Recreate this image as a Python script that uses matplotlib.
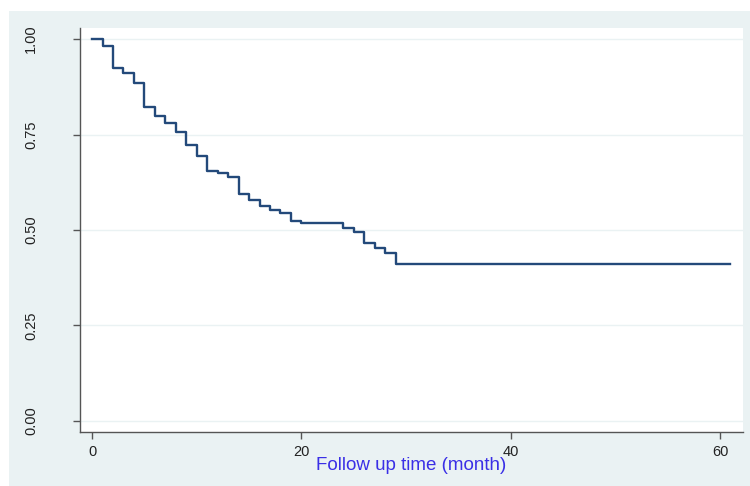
import matplotlib
matplotlib.use("Agg")
import matplotlib.pyplot as plt
from matplotlib.patches import Rectangle

# Kaplan-Meier estimate
months = [0, 1, 2, 3, 4, 5, 6, 7, 8, 9, 10, 11, 12, 13, 14, 15, 16, 17, 18, 19, 20,
          24, 25, 26, 27, 28, 29, 61]
survival = [1.0, 0.982, 0.923, 0.910, 0.884, 0.823, 0.798, 0.781, 0.757, 0.722, 0.694,
            0.655, 0.648, 0.638, 0.594, 0.579, 0.563, 0.552, 0.545, 0.524, 0.519,
            0.504, 0.496, 0.467, 0.452, 0.439, 0.410, 0.410]
x_ticks = [0, 20, 40, 60]
y_ticks = [0.0, 0.25, 0.5, 0.75, 1.0]
y_labels = ["0.00", "0.25", "0.50", "0.75", "1.00"]

plt.rcParams['font.family'] = ['Liberation Sans', 'DejaVu Sans']

fig = plt.figure(figsize=(7.5, 4.86), dpi=100, facecolor="white")
# stata-like grey-blue background panel, kept behind the axes
fig.patches.append(Rectangle((0.012, 0.0), 0.988, 0.977, transform=fig.transFigure,
                             facecolor="#eaf2f3", edgecolor="none", zorder=-10))

ax = fig.add_axes([0.1067, 0.1111, 0.884, 0.8313])
ax.set_facecolor("white")

ax.step(months, survival, where="post", color="#23497a", linewidth=1.7, zorder=3)

ax.set_xlim(-1.15, 62.2)
ax.set_ylim(-0.029, 1.029)
ax.set_xticks(x_ticks)
ax.set_yticks(y_ticks)
ax.set_yticklabels(y_labels, rotation=90, va="center")

for y in y_ticks:
    ax.axhline(y, color="#eaf2f3", linewidth=1.0, zorder=1)

for s in ["top", "right"]:
    ax.spines[s].set_visible(False)
for s in ["left", "bottom"]:
    ax.spines[s].set_color("#555555")
    ax.spines[s].set_linewidth(1.0)

ax.tick_params(axis="y", length=5, width=1, color="#555555", labelsize=10.5,
               labelcolor="#222222", pad=25)
ax.tick_params(axis="x", length=5, width=1, color="#555555", labelsize=10.5,
               labelcolor="#222222", pad=4)

ax.set_xlabel("Follow up time (month)", color="#3a2fe6", fontsize=13.5, labelpad=-1)

fig.savefig("out.png", dpi=100, facecolor=fig.get_facecolor())
